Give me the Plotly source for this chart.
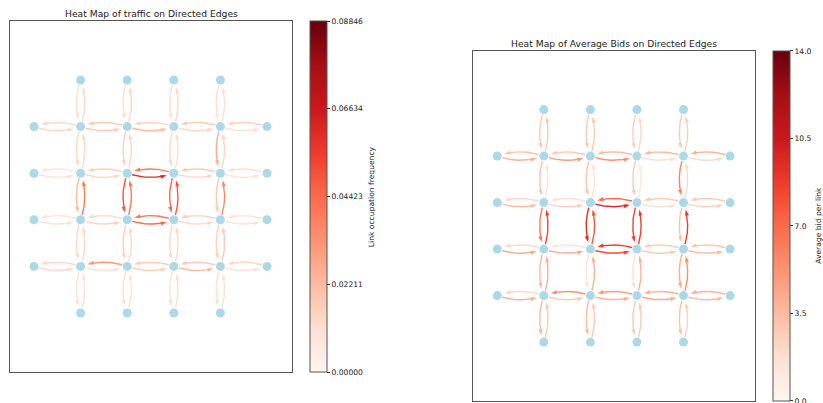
import numpy as np
import plotly.graph_objects as go
from plotly.colors import sample_colorscale

# ---------------------------------------------------------------------------
# Data: per-direction link values on a 6x6 grid (corners removed).
# Horizontal links live in rows 1-4, vertical links in columns 1-4.
# EAST/WEST: one list per row (rows 1..4), entry c = link between columns c, c+1
# SOUTH/NORTH: one list per column (cols 1..4), entry r = link between rows r, r+1
# ---------------------------------------------------------------------------
TRAFFIC_EAST = [
    [0.0133, 0.0177, 0.0221, 0.0133, 0.0106],
    [0.0106, 0.0133, 0.0602, 0.0133, 0.0088],
    [0.0106, 0.0159, 0.0442, 0.0133, 0.0106],
    [0.0133, 0.0106, 0.0159, 0.0221, 0.0106],
]
TRAFFIC_WEST = [
    [0.0133, 0.0177, 0.0150, 0.0177, 0.0159],
    [0.0088, 0.0159, 0.0398, 0.0177, 0.0106],
    [0.0088, 0.0133, 0.0398, 0.0159, 0.0106],
    [0.0133, 0.0310, 0.0177, 0.0177, 0.0133],
]
TRAFFIC_SOUTH = [
    [0.0115, 0.0133, 0.0221, 0.0133, 0.0106],
    [0.0115, 0.0159, 0.0487, 0.0159, 0.0106],
    [0.0115, 0.0133, 0.0442, 0.0133, 0.0106],
    [0.0115, 0.0265, 0.0177, 0.0159, 0.0106],
]
TRAFFIC_NORTH = [
    [0.0133, 0.0133, 0.0398, 0.0133, 0.0106],
    [0.0133, 0.0133, 0.0398, 0.0133, 0.0088],
    [0.0133, 0.0106, 0.0487, 0.0133, 0.0106],
    [0.0115, 0.0133, 0.0354, 0.0177, 0.0106],
]
TRAFFIC_MAX = 0.08846
TRAFFIC_TICKS = [0.0, 0.02211, 0.04423, 0.06634, 0.08846]
TRAFFIC_TICK_LABELS = ["0.00000", "0.02211", "0.04423", "0.06634", "0.08846"]

BIDS_EAST = [
    [3.9, 4.9, 5.3, 1.7, 2.1],
    [3.5, 2.5, 9.5, 1.7, 2.5],
    [4.2, 4.2, 8.1, 2.8, 3.5],
    [3.9, 2.8, 3.9, 4.2, 3.5],
]
BIDS_WEST = [
    [3.1, 2.8, 3.5, 3.5, 3.9],
    [2.1, 1.7, 7.0, 2.8, 2.8],
    [2.1, 1.4, 8.7, 2.8, 3.1],
    [2.1, 5.3, 4.9, 3.9, 3.9],
]
BIDS_SOUTH = [
    [2.8, 3.1, 6.3, 3.5, 3.5],
    [2.8, 3.1, 9.5, 1.4, 3.5],
    [2.5, 2.8, 8.4, 1.7, 2.8],
    [2.8, 5.9, 3.1, 4.2, 3.1],
]
BIDS_NORTH = [
    [2.8, 1.4, 8.4, 3.9, 2.8],
    [2.8, 1.4, 7.7, 3.9, 2.8],
    [2.1, 1.1, 8.7, 3.9, 2.8],
    [2.5, 2.1, 8.7, 5.3, 2.5],
]
BIDS_MAX = 14.0
BIDS_TICKS = [0.0, 3.5, 7.0, 10.5, 14.0]
BIDS_TICK_LABELS = ["0.0", "3.5", "7.0", "10.5", "14.0"]

TITLES = ["Heat Map of traffic on Directed Edges",
          "Heat Map of Average Bids on Directed Edges"]
CBAR_TITLES = ["Link occupation frequency", "Average bid per link"]

# ---------------------------------------------------------------------------
# Styling
# ---------------------------------------------------------------------------
REDS = ["#fff5f0", "#fee0d2", "#fcbba1", "#fc9272", "#fb6a4a",
        "#ef3b2c", "#cb181d", "#a50f15", "#67000d"]
REDS_SCALE = [[i / (len(REDS) - 1), c] for i, c in enumerate(REDS)]
NODE_COLOR = "#add8e6"
FONT = "DejaVu Sans"
TEXT_COLOR = "#222"
RAD = 0.18           # arc bend (control point offset relative to link length)
SHRINK_START = 0.11  # gap between source node centre and arc start
SHRINK_END = 0.155   # gap between target node centre and arrow tip
HEAD_CUT = 0.06      # the line stops this far before the tip
X_RANGE = [-0.515, 5.536]
Y_RANGE = [6.266, -1.266]

W, H = 823, 403


def grid_nodes():
    return [(r, c) for r in range(6) for c in range(6)
            if not (r in (0, 5) and c in (0, 5))]


def edge_list(east, west, south, north):
    edges = []
    for i, r in enumerate(range(1, 5)):
        for c in range(5):
            edges.append(((r, c), (r, c + 1), east[i][c]))
            edges.append(((r, c + 1), (r, c), west[i][c]))
    for j, c in enumerate(range(1, 5)):
        for r in range(5):
            edges.append(((r, c), (r + 1, c), south[j][r]))
            edges.append(((r + 1, c), (r, c), north[j][r]))
    return edges


def arc(src, dst):
    p0 = np.array([src[1], src[0]], float)
    p1 = np.array([dst[1], dst[0]], float)
    d = p1 - p0
    ctrl = (p0 + p1) / 2 + RAD * np.array([-d[1], d[0]])
    t = np.linspace(0, 1, 301)[:, None]
    pts = (1 - t) ** 2 * p0 + 2 * (1 - t) * t * ctrl + t ** 2 * p1
    d0 = np.linalg.norm(pts - p0, axis=1)
    d1 = np.linalg.norm(pts - p1, axis=1)
    tip_idx = np.where(d1 >= SHRINK_END)[0][-1]
    tip = pts[tip_idx]
    tt = t[tip_idx, 0]
    deriv = 2 * (1 - tt) * (ctrl - p0) + 2 * tt * (p1 - ctrl)
    u = deriv / np.linalg.norm(deriv)
    idx = np.arange(len(pts))
    keep = (d0 >= SHRINK_START) & (idx <= tip_idx) & \
        (np.linalg.norm(pts - tip, axis=1) >= HEAD_CUT)
    line = pts[keep]
    angle = float(np.degrees(np.arctan2(u[0], -u[1])))
    return line, tip, angle


panels = [
    dict(edges=edge_list(TRAFFIC_EAST, TRAFFIC_WEST, TRAFFIC_SOUTH, TRAFFIC_NORTH),
         vmax=TRAFFIC_MAX, ticks=TRAFFIC_TICKS, labels=TRAFFIC_TICK_LABELS,
         box=(10, 21, 292, 372), cbar_x=310, cbar_title_x=371.7),
    dict(edges=edge_list(BIDS_EAST, BIDS_WEST, BIDS_SOUTH, BIDS_NORTH),
         vmax=BIDS_MAX, ticks=BIDS_TICKS, labels=BIDS_TICK_LABELS,
         box=(473.3, 50.7, 755, 401), cbar_x=772.7, cbar_title_x=819),
]

fig = go.Figure()
annotations = []
nodes = grid_nodes()

for k, p in enumerate(panels):
    xa = "x" if k == 0 else "x2"
    ya = "y" if k == 0 else "y2"
    head_x, head_y, head_ang, head_val = [], [], [], []
    for src, dst, val in p["edges"]:
        line, tip, ang = arc(src, dst)
        col = sample_colorscale(REDS_SCALE, [min(val / p["vmax"], 1.0)])[0]
        fig.add_trace(go.Scatter(
            x=line[:, 0], y=line[:, 1], mode="lines", xaxis=xa, yaxis=ya,
            line=dict(color=col, width=1.4), hoverinfo="skip", showlegend=False))
        head_x.append(tip[0])
        head_y.append(tip[1])
        head_ang.append(ang)
        head_val.append(val)

    x0, y0, x1, y1 = p["box"]
    fig.add_trace(go.Scatter(
        x=head_x, y=head_y, mode="markers", xaxis=xa, yaxis=ya,
        marker=dict(symbol="arrow", size=6.5, angle=head_ang, color=head_val,
                    colorscale=REDS_SCALE, cmin=0, cmax=p["vmax"],
                    line=dict(width=0), showscale=True,
                    colorbar=dict(
                        x=p["cbar_x"] / W, xanchor="left",
                        y=1 - (y0 + y1) / 2 / H, yanchor="middle",
                        len=(y1 - y0) / H, lenmode="fraction",
                        thickness=17, thicknessmode="pixels",
                        xpad=0, ypad=0, outlinewidth=1, outlinecolor="#555",
                        tickmode="array", tickvals=p["ticks"], ticktext=p["labels"],
                        ticks="outside", ticklen=3, tickwidth=1, tickcolor="#333",
                        ticklabeloverflow="allow",
                        tickfont=dict(size=7.6, color=TEXT_COLOR, family=FONT))),
        hoverinfo="skip", showlegend=False))

    fig.add_trace(go.Scatter(
        x=[n[1] for n in nodes], y=[n[0] for n in nodes], mode="markers",
        xaxis=xa, yaxis=ya, marker=dict(color=NODE_COLOR, size=9, line=dict(width=0)),
        hoverinfo="skip", showlegend=False))

    annotations.append(dict(
        text=TITLES[k], x=(x0 + x1) / 2 / W, y=1 - (y0 - 7) / H,
        xref="paper", yref="paper", xanchor="center", yanchor="middle",
        showarrow=False, font=dict(size=9.2, color=TEXT_COLOR, family=FONT)))
    annotations.append(dict(
        text=CBAR_TITLES[k], x=p["cbar_title_x"] / W, y=1 - (y0 + y1) / 2 / H,
        xref="paper", yref="paper", xanchor="center", yanchor="middle",
        textangle=-90, showarrow=False,
        font=dict(size=7.6, color=TEXT_COLOR, family=FONT)))

axis_common = dict(showline=True, mirror=True, linecolor="#555", linewidth=1,
                   showgrid=False, zeroline=False, showticklabels=False,
                   ticks="", fixedrange=True)

b0, b1 = panels[0]["box"], panels[1]["box"]
fig.update_layout(
    width=W, height=H, margin=dict(l=0, r=0, t=0, b=0),
    paper_bgcolor="white", plot_bgcolor="white",
    font=dict(family=FONT),
    xaxis=dict(domain=[b0[0] / W, b0[2] / W], range=X_RANGE, anchor="y", **axis_common),
    yaxis=dict(domain=[1 - b0[3] / H, 1 - b0[1] / H], range=Y_RANGE, anchor="x", **axis_common),
    xaxis2=dict(domain=[b1[0] / W, b1[2] / W], range=X_RANGE, anchor="y2", **axis_common),
    yaxis2=dict(domain=[max(0, 1 - b1[3] / H), 1 - b1[1] / H], range=Y_RANGE, anchor="x2",
                **axis_common),
    annotations=annotations,
)

fig.write_html("out.html")
